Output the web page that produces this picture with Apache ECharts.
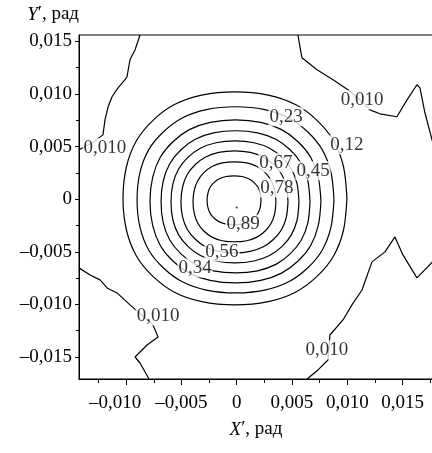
<!DOCTYPE html>
<html><head><meta charset="utf-8">
<script src="https://cdn.jsdelivr.net/npm/echarts@6/dist/echarts.min.js"></script>
<style>html,body{margin:0;padding:0;background:#fff}#c{width:432px;height:453px}</style>
</head><body><div id="c"></div>
<script>
// all coordinates below are in milliradians; UNIT converts to radians
const UNIT = 0.001;
const xRange = [-14.26, 17.75];
const yRange = [-17.09, 15.6];
const xTicks = [-10, -5, 0, 5, 10, 15];
const xMinorTicks = [-12.5, -7.5, -2.5, 2.5, 7.5, 12.5, 17.5];
const yTicks = [-15, -10, -5, 0, 5, 10, 15];
const yMinorTicks = [-12.5, -7.5, -2.5, 2.5, 7.5, 12.5];

// closed contour rings (level -> points)
const ring012 = [[9.97,0.08],[9.66,3.08],[8.76,5.55],[7.26,7.49],[5.31,8.99],[2.85,9.89],[-0.16,10.20],[-3.16,9.89],[-5.63,8.99],[-7.57,7.49],[-9.07,5.55],[-9.97,3.08],[-10.28,0.08],[-9.97,-2.93],[-9.07,-5.40],[-7.57,-7.34],[-5.63,-8.84],[-3.16,-9.74],[-0.16,-10.05],[2.85,-9.74],[5.31,-8.84],[7.26,-7.34],[8.76,-5.40],[9.66,-2.93]];
const ring023 = [[8.80,-0.07],[8.52,2.56],[7.73,4.71],[6.41,6.41],[4.70,7.72],[2.53,8.51],[-0.11,8.78],[-2.74,8.51],[-4.92,7.72],[-6.62,6.41],[-7.95,4.71],[-8.74,2.56],[-9.01,-0.07],[-8.74,-2.69],[-7.95,-4.85],[-6.62,-6.54],[-4.92,-7.85],[-2.74,-8.64],[-0.11,-8.91],[2.53,-8.64],[4.70,-7.85],[6.41,-6.54],[7.73,-4.85],[8.52,-2.69]];
const ring034 = [[7.62,-0.21],[7.38,2.08],[6.69,3.98],[5.55,5.46],[4.06,6.61],[2.18,7.30],[-0.11,7.54],[-2.40,7.30],[-4.28,6.61],[-5.77,5.46],[-6.91,3.98],[-7.60,2.08],[-7.84,-0.21],[-7.60,-2.50],[-6.91,-4.40],[-5.77,-5.88],[-4.28,-7.03],[-2.40,-7.72],[-0.11,-7.96],[2.18,-7.72],[4.06,-7.03],[5.55,-5.88],[6.69,-4.40],[7.38,-2.50]];
const ring045 = [[6.63,-0.26],[6.43,1.75],[5.83,3.39],[4.83,4.69],[3.54,5.69],[1.89,6.30],[-0.11,6.50],[-2.10,6.30],[-3.75,5.69],[-5.04,4.69],[-6.04,3.39],[-6.64,1.75],[-6.84,-0.26],[-6.64,-2.26],[-6.04,-3.91],[-5.04,-5.20],[-3.75,-6.20],[-2.10,-6.81],[-0.11,-7.01],[1.89,-6.81],[3.54,-6.20],[4.83,-5.20],[5.83,-3.91],[6.43,-2.26]];
const ring056 = [[5.63,-0.26],[5.46,1.46],[4.94,2.87],[4.08,3.99],[2.97,4.84],[1.56,5.36],[-0.16,5.54],[-1.87,5.36],[-3.28,4.84],[-4.39,3.99],[-5.25,2.87],[-5.77,1.46],[-5.94,-0.26],[-5.77,-1.98],[-5.25,-3.39],[-4.39,-4.51],[-3.28,-5.36],[-1.87,-5.88],[-0.16,-6.06],[1.56,-5.88],[2.97,-5.36],[4.08,-4.51],[4.94,-3.39],[5.46,-1.98]];
const ring067 = [[4.64,-0.26],[4.49,1.18],[4.06,2.36],[3.34,3.29],[2.41,4.01],[1.23,4.44],[-0.20,4.59],[-1.63,4.44],[-2.81,4.01],[-3.74,3.29],[-4.46,2.36],[-4.89,1.18],[-5.04,-0.26],[-4.89,-1.70],[-4.46,-2.88],[-3.74,-3.81],[-2.81,-4.53],[-1.63,-4.96],[-0.20,-5.11],[1.23,-4.96],[2.41,-4.53],[3.34,-3.81],[4.06,-2.88],[4.49,-1.70]];
const ring078 = [[3.55,-0.26],[3.43,0.88],[3.10,1.80],[2.55,2.54],[1.83,3.10],[0.91,3.44],[-0.20,3.55],[-1.31,3.44],[-2.23,3.10],[-2.95,2.54],[-3.50,1.80],[-3.83,0.88],[-3.95,-0.26],[-3.83,-1.39],[-3.50,-2.31],[-2.95,-3.05],[-2.23,-3.61],[-1.31,-3.95],[-0.20,-4.06],[0.91,-3.95],[1.83,-3.61],[2.55,-3.05],[3.10,-2.31],[3.43,-1.39]];
const ring089 = [[2.20,-0.11],[2.12,0.58],[1.91,1.15],[1.55,1.60],[1.08,1.94],[0.48,2.15],[-0.24,2.22],[-0.96,2.15],[-1.56,1.94],[-2.03,1.60],[-2.39,1.15],[-2.60,0.58],[-2.68,-0.11],[-2.60,-0.80],[-2.39,-1.37],[-2.03,-1.82],[-1.56,-2.16],[-0.96,-2.37],[-0.24,-2.44],[0.48,-2.37],[1.08,-2.16],[1.55,-1.82],[1.91,-1.37],[2.12,-0.80]];

// open 0,010 contour pieces
const low010a = [[-8.74,15.6],[-9.19,14.20],[-9.65,13.25],[-9.92,11.63],[-10.10,11.35],[-10.73,10.58],[-11.27,9.73],[-11.63,8.78],[-11.91,7.54],[-12.09,6.11],[-13.08,5.35],[-14.26,4.69]];
const low010b = [[5.54,15.6],[5.72,14.48],[5.90,13.44],[7.26,12.30],[8.71,11.35],[10.06,10.39],[11.15,9.44],[12.05,8.49],[12.95,8.11],[14.49,7.83],[15.40,9.44],[16.30,10.87],[16.57,10.58],[17.02,8.21],[17.75,5.3]];
const low010c = [[-14.26,-6.53],[-13.26,-7.20],[-12.36,-7.67],[-11.72,-8.44],[-10.82,-8.91],[-9.65,-10.05],[-7.57,-11.95],[-7.11,-13.10],[-8.11,-13.86],[-9.19,-15.00],[-8.74,-15.57],[-7.93,-17.09]];
const low010d = [[6.36,-17.09],[7.35,-16.23],[8.25,-15.28],[8.43,-12.91],[9.61,-11.48],[10.42,-10.05],[11.33,-8.63],[12.23,-5.96],[13.41,-5.01],[14.31,-3.59],[15.03,-5.30],[16.30,-7.48],[17.75,-5.9]];

const peak = [[0, -0.80]];

// contour labels: [x, y, text]
const contourLabels = [
  [4.46, 7.83, '0,23'], [9.97, 5.16, '0,12'], [3.55, 3.45, '0,67'], [6.90, 2.69, '0,45'],
  [3.64, 1.07, '0,78'], [0.57, -2.35, '0,89'], [-1.33, -5.01, '0,56'], [-3.77, -6.53, '0,34'],
  [-11.91, 4.88, '0,010'], [11.33, 9.44, '0,010'], [-7.11, -11.10, '0,010'], [8.16, -14.33, '0,010']
];

const FONT = 'Liberation Serif';
const FS = 19;
const toRad = pts => pts.map(p => [p[0]*UNIT, p[1]*UNIT]);
const closed = pts => toRad(pts.concat([pts[0]]));
function fmt(v) {
  if (Math.abs(v) < 1e-9) return '0';
  return (v < 0 ? '\u2013' : '') + Math.abs(v).toFixed(3).replace('.', ',');
}
function fmtX(v) {
  const s = fmt(v);
  // the leftmost label is nudged left in the original to avoid touching its neighbour
  return Math.abs(v + 0.010) < 1e-9 ? '{shift|' + s + '}' : s;
}
const lineStyle = {color: '#000', width: 1.2};
const rings = [ring012, ring023, ring034, ring045, ring056, ring067, ring078, ring089];
const opens = [low010a, low010b, low010c, low010d];
const series = [];
rings.forEach(r => series.push({type: 'line', data: closed(r), smooth: 0.3, symbol: 'none', lineStyle, silent: true, animation: false}));
opens.forEach(r => series.push({type: 'line', data: toRad(r), symbol: 'none', lineStyle, silent: true, animation: false}));
series.push({type: 'scatter', data: toRad(peak), symbolSize: 2, itemStyle: {color: '#000'}, animation: false});
series.push({
  type: 'scatter', z: 10, animation: false, symbolSize: 1, itemStyle: {color: 'rgba(0,0,0,0)'},
  data: contourLabels.map(l => ({value: [l[0]*UNIT, l[1]*UNIT], name: l[2]})),
  label: {show: true, position: 'inside', formatter: p => p.name, fontFamily: FONT, fontSize: FS,
          color: '#000', backgroundColor: '#fff', padding: [0, 1]}
});

const axisLine = {show: true, onZero: false, lineStyle: {color: '#000', width: 1}};
const chart = echarts.init(document.getElementById('c'), null, {renderer: 'canvas'});
chart.setOption({
  animation: false,
  backgroundColor: '#fff',
  grid: {left: 79, top: 35, right: -1, bottom: 74, show: true, borderColor: '#000', borderWidth: 1, containLabel: false, outerBoundsMode: 'none'},
  xAxis: [
    {
      type: 'value', position: 'bottom', min: xRange[0]*UNIT, max: xRange[1]*UNIT,
      axisLine, splitLine: {show: false},
      axisTick: {show: true, length: 6, lineStyle: {color: '#000'}, customValues: xTicks.map(v => v*UNIT)},
      axisLabel: {show: true, customValues: xTicks.map(v => v*UNIT), formatter: fmtX, fontFamily: FONT, fontSize: FS, color: '#000', margin: 15,
        rich: {shift: {fontFamily: FONT, fontSize: FS, color: '#000', padding: [0, 22, 0, 0]}}},
      name: '{i|X}\u2032, рад', nameLocation: 'middle', nameGap: 41,
      nameTextStyle: {fontFamily: FONT, fontSize: FS, color: '#000',
        rich: {i: {fontFamily: FONT, fontSize: FS, fontStyle: 'italic', color: '#000'}}}
    },
    {
      type: 'value', position: 'bottom', min: xRange[0]*UNIT, max: xRange[1]*UNIT,
      axisLine: {show: false, onZero: false}, splitLine: {show: false},
      axisTick: {show: true, length: 4, lineStyle: {color: '#000'}, customValues: xMinorTicks.map(v => v*UNIT)},
      axisLabel: {show: false, customValues: xMinorTicks.map(v => v*UNIT)}
    }
  ],
  yAxis: [
    {
      type: 'value', position: 'left', min: yRange[0]*UNIT, max: yRange[1]*UNIT,
      axisLine, splitLine: {show: false},
      axisTick: {show: true, length: 4, lineStyle: {color: '#000'}, customValues: yTicks.map(v => v*UNIT)},
      axisLabel: {show: true, customValues: yTicks.map(v => v*UNIT), formatter: fmt, fontFamily: FONT, fontSize: FS, color: '#000', margin: 7},
      name: '{i|Y}\u2032, рад', nameLocation: 'end', nameGap: 11,
      nameTextStyle: {fontFamily: FONT, fontSize: FS, color: '#000', align: 'right',
        rich: {i: {fontFamily: FONT, fontSize: FS, fontStyle: 'italic', color: '#000'}}}
    },
    {
      type: 'value', position: 'left', min: yRange[0]*UNIT, max: yRange[1]*UNIT,
      axisLine: {show: false, onZero: false}, splitLine: {show: false},
      axisTick: {show: true, length: 3, lineStyle: {color: '#000'}, customValues: yMinorTicks.map(v => v*UNIT)},
      axisLabel: {show: false, customValues: yMinorTicks.map(v => v*UNIT)}
    }
  ],
  series
});
</script></body></html>
